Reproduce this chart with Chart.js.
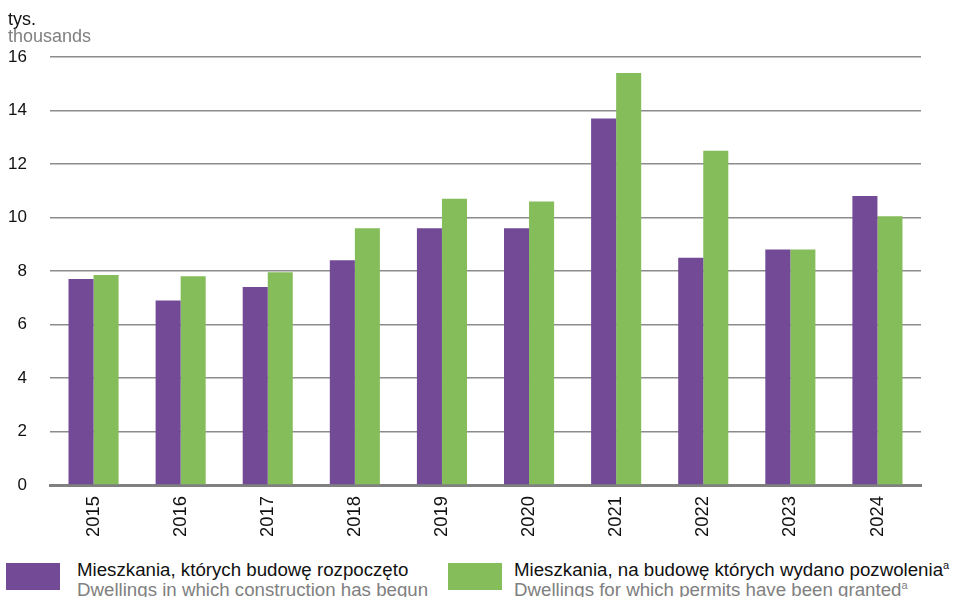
<!DOCTYPE html>
<html>
<head>
<meta charset="utf-8">
<script src="https://cdn.jsdelivr.net/npm/chart.js@4"></script>
<style>
  body { margin: 0; background: #fff; font-family: "Liberation Sans", Arial, sans-serif; }
  #wrap { position: relative; width: 956px; height: 597px; overflow: hidden; }
  #chart { position: absolute; left: 0; top: 0; }
  .unit { position: absolute; left: 8px; font-size: 18px; line-height: 18px; }
  .leg { position: absolute; top: 563px; width: 54px; height: 27px; }
  .legtxt { position: absolute; top: 560px; font-size: 18.7px; line-height: 20px; white-space: nowrap; }
  .pl { color: #111; }
  .en { color: #808080; }
  sup { font-size: 11px; vertical-align: 7px; line-height: 0; }
</style>
</head>
<body>
<div id="wrap">
  <canvas id="chart" width="956" height="545"></canvas>
  <div class="unit" style="top:10px;color:#111">tys.</div>
  <div class="unit" style="top:27px;color:#808080">thousands</div>
  <div class="leg" style="left:6px;background:#724a96"></div>
  <div class="legtxt" style="left:77px"><div class="pl">Mieszkania, których budowę rozpoczęto</div><div class="en">Dwellings in which construction has begun</div></div>
  <div class="leg" style="left:448px;background:#84bd5a"></div>
  <div class="legtxt" style="left:514px"><div class="pl">Mieszkania, na budowę których wydano pozwolenia<sup>a</sup></div><div class="en">Dwellings for which permits have been granted<sup>a</sup></div></div>
</div>
<script>
const years = ['2015', '2016', '2017', '2018', '2019', '2020', '2021', '2022', '2023', '2024'];
const begun = [7.7, 6.9, 7.4, 8.4, 9.6, 9.6, 13.7, 8.5, 8.8, 10.8];
const permits = [7.85, 7.8, 7.95, 9.6, 10.7, 10.6, 15.4, 12.5, 8.8, 10.05];
const yTicks = [0, 2, 4, 6, 8, 10, 12, 14, 16];

const ctx = document.getElementById('chart').getContext('2d');
const myChart = new Chart(ctx, {
    type: 'bar',
    data: {
        labels: years,
        datasets: [{
            label: 'Mieszkania, których budowę rozpoczęto',
            data: begun,
            backgroundColor: '#724a96',
            categoryPercentage: 0.575,
            barPercentage: 1
        }, {
            label: 'Mieszkania, na budowę których wydano pozwolenia',
            data: permits,
            backgroundColor: '#84bd5a',
            categoryPercentage: 0.575,
            barPercentage: 1
        }]
    },
    options: {
        responsive: false,
        animation: false,
        layout: { padding: { top: 57, right: 35, left: 0, bottom: 0 } },
        plugins: {
            legend: { display: false },
            tooltip: { enabled: false }
        },
        scales: {
            x: {
                grid: { display: false, drawTicks: false },
                border: { color: '#808080', width: 3 },
                ticks: {
                    minRotation: 90,
                    maxRotation: 90,
                    padding: 11,
                    color: '#111',
                    font: { family: 'Liberation Sans', size: 18.4 }
                },
                afterFit: scale => { scale.height = 60; }
            },
            y: {
                min: 0,
                max: 16,
                afterBuildTicks: scale => { scale.ticks = yTicks.map(v => ({ value: v })); },
                grid: { color: '#8c8c8c', lineWidth: 1.5, drawTicks: false },
                border: { display: false },
                ticks: {
                    padding: 23,
                    color: '#111',
                    font: { family: 'Liberation Sans', size: 17 }
                },
                afterFit: scale => { scale.width = 50; }
            }
        }
    }
});
</script>
</body>
</html>
